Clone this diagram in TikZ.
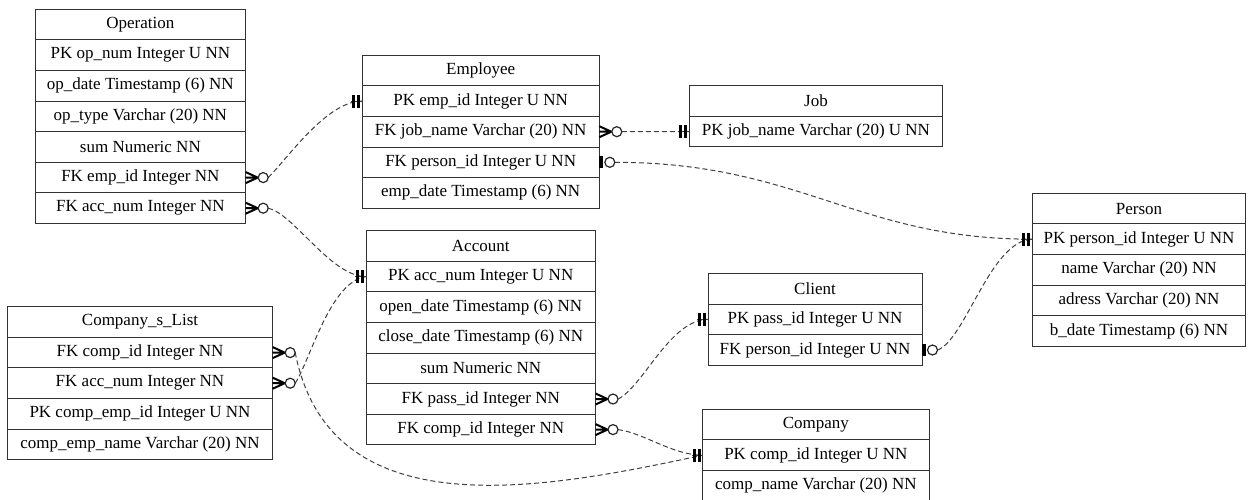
\documentclass[tikz,border=0pt]{standalone}
\usepackage{fontspec}
\setmainfont{Liberation Serif}
\usetikzlibrary{calc}

% one ER table: #1 name prefix, #2 centre x, #3 top y, #4 width, #5 rows (header first)
\newcommand{\ertable}[5]{%
  \foreach \t [count=\i from 0] in {#5} {%
    \node[cell, minimum width=#4pt] (#1\i) at (#2, {#3+\i*30.6+15.3}) {\t};
  }%
}

\tikzset{
  cell/.style={draw=black!80, line width=1pt, rectangle, minimum height=30.6pt,
    inner sep=0pt, outer sep=0pt, text=black, font=\fontsize{17}{20}\selectfont},
  rel/.style={draw=black!75, line width=1pt, dash pattern=on 5pt off 3pt},
  % zero or many: crow's foot and open circle
  manyopt/.pic={
    \draw[black, line width=2pt, line join=miter] (0,-5.5) -- (12,0) -- (0,5.5) (0,0) -- (12,0);
    \draw[black!85, line width=1.2pt, fill=white] (17.5,0) circle[radius=5pt];
  },
  % exactly one: double bar
  oneone/.pic={
    \draw[black!75, line width=1pt] (0,0) -- (11,0);
    \fill[black] (2,-6.5) rectangle (5,6.5);
    \fill[black] (7,-6.5) rectangle (10,6.5);
  },
  % zero or one: bar and open circle
  zeroone/.pic={
    \fill[black] (0,-6) rectangle (3.8,6);
    \draw[black!85, line width=1.2pt, fill=white] (10.5,0) circle[radius=5pt];
  },
}

\begin{document}
\begin{tikzpicture}[x=1pt, y=-1pt]
\useasboundingbox[fill=white] (0,0) rectangle (1252,500);

\ertable{op}{140.35}{9.3}{210.7}{Operation, PK op\_num Integer U NN, op\_date Timestamp (6) NN,
  op\_type Varchar (20) NN, sum Numeric NN, FK emp\_id Integer NN, FK acc\_num Integer NN}
\ertable{emp}{480.65}{55.2}{237.3}{Employee, PK emp\_id Integer U NN, FK job\_name Varchar (20) NN,
  FK person\_id Integer U NN, emp\_date Timestamp (6) NN}
\ertable{job}{816}{85.7}{253.4}{Job, PK job\_name Varchar (20) U NN}
\ertable{acc}{480.75}{230.7}{229.5}{Account, PK acc\_num Integer U NN, open\_date Timestamp (6) NN,
  close\_date Timestamp (6) NN, sum Numeric NN, FK pass\_id Integer NN, FK comp\_id Integer NN}
\ertable{cli}{815}{273.5}{214}{Client, PK pass\_id Integer U NN, FK person\_id Integer U NN}
\ertable{com}{815.85}{409.3}{226.3}{Company, PK comp\_id Integer U NN, comp\_name Varchar (20) NN}
\ertable{per}{1139}{193.3}{213.4}{Person, PK person\_id Integer U NN, name Varchar (20) NN,
  adress Varchar (20) NN, b\_date Timestamp (6) NN}
\ertable{csl}{140}{306.7}{265.4}{Company\_s\_List, FK comp\_id Integer NN, FK acc\_num Integer NN,
  PK comp\_emp\_id Integer U NN, comp\_emp\_name Varchar (20) NN}

% relationships
\draw[rel] ([xshift=22.5pt]op5.east) .. controls +(20,-20) and +(-35,0) .. (emp1.west);
\draw[rel] ([xshift=22.5pt]op6.east) .. controls +(25,5) and +(-35,0) .. (acc1.west);
\draw[rel] ([xshift=22.5pt]emp2.east) -- (job1.west);
\draw[rel] ([xshift=15.5pt]emp3.east) .. controls +(185,0) and +(-175,0) .. (per1.west);
\draw[rel] ([xshift=22.5pt]csl1.east) .. controls +(35,177) and +(-163,35) .. (com1.west);
\draw[rel] ([xshift=22.5pt]csl2.east) .. controls +(15,-23) and +(-36,5) .. (acc1.west);
\draw[rel] ([xshift=22.5pt]acc5.east) .. controls +(25,-12) and +(-38,0) .. (cli1.west);
\draw[rel] ([xshift=22.5pt]acc6.east) .. controls +(25,3) and +(-30,0) .. (com1.west);
\draw[rel] ([xshift=15.5pt]cli2.east) .. controls +(28,-10) and +(-42,1) .. (per1.west);

% cardinality marks
\pic at (op5.east) {manyopt};
\pic at (op6.east) {manyopt};
\pic at (emp2.east) {manyopt};
\pic at (emp3.east) {zeroone};
\pic at (csl1.east) {manyopt};
\pic at (csl2.east) {manyopt};
\pic at (acc5.east) {manyopt};
\pic at (acc6.east) {manyopt};
\pic at (cli2.east) {zeroone};
\pic[xscale=-1] at (emp1.west) {oneone};
\pic[xscale=-1] at (job1.west) {oneone};
\pic[xscale=-1] at (acc1.west) {oneone};
\pic[xscale=-1] at (cli1.west) {oneone};
\pic[xscale=-1] at (com1.west) {oneone};
\pic[xscale=-1] at (per1.west) {oneone};
\end{tikzpicture}
\end{document}
